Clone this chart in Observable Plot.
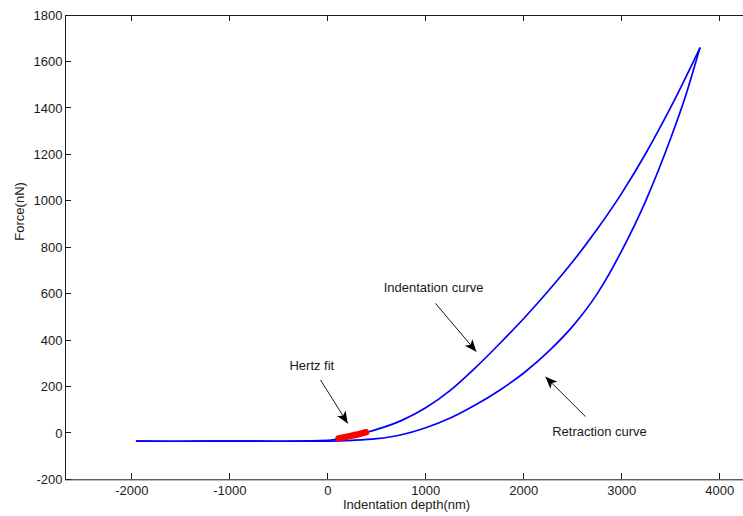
<!DOCTYPE html>
<html>
<head>
<meta charset="utf-8">
<script src="https://cdn.jsdelivr.net/npm/d3@7"></script>
<script src="https://cdn.jsdelivr.net/npm/@observablehq/plot@0.6"></script>
<style>
  html, body { margin: 0; padding: 0; background: #fff; }
  #chart svg { display: block; }
</style>
</head>
<body>
<div id="chart"></div>
<script>
// Indentation (approach) curve
const indentDepth = [-1950, -1500, -1000, -500, 0, 100, 250, 400, 500, 750, 1000, 1250, 1500, 1750, 2000, 2250, 2500, 2750, 3000, 3250, 3500, 3796];
const indentForce = [-33, -34, -33, -34, -30, -24, -10, 5, 17, 55, 110, 185, 280, 385, 495, 613, 740, 880, 1035, 1210, 1405, 1659];
// Retraction curve
const retractDepth = [-1950, -1500, -1000, -500, 0, 250, 500, 742, 1000, 1250, 1500, 1750, 2000, 2250, 2500, 2750, 3000, 3250, 3500, 3650, 3796];
const retractForce = [-33, -34, -33, -34, -33, -30, -23, -7, 24, 66, 121, 185, 260, 352, 462, 602, 787, 1007, 1272, 1452, 1659];
// Hertz fit segment
const hertzDepth = [110, 200, 300, 390];
const hertzForce = [-22, -14, -5, 5];
// Ticks
const xTicks = [-2000, -1000, 0, 1000, 2000, 3000, 4000];
const yTicks = [-200, 0, 200, 400, 600, 800, 1000, 1200, 1400, 1600, 1800];
// Annotations
const noteLabels = ["Hertz fit", "Indentation curve", "Retraction curve"];
const noteX = [-391, 571, 2290];
const noteY = [290, 625, 7];
const arrowX1 = [-74, 1099, 2630];
const arrowY1 = [230, 560, 72];
const arrowX2 = [204, 1516, 2221];
const arrowY2 = [43, 352, 244];

const xDomain = [-2676, 4242];
const yDomain = [-200, 1800];

const indent = indentDepth.map((d, i) => ({x: d, y: indentForce[i]}));
const retract = retractDepth.map((d, i) => ({x: d, y: retractForce[i]}));
const hertz = hertzDepth.map((d, i) => ({x: d, y: hertzForce[i]}));
const notes = noteLabels.map((t, i) => ({t, x: noteX[i], y: noteY[i]}));
const arrows = arrowX1.map((d, i) => ({x1: d, y1: arrowY1[i], x2: arrowX2[i], y2: arrowY2[i]}));

const font = "'Liberation Sans', Arial, sans-serif";
const ink = "#1a1a1a";

const plot = Plot.plot({
  width: 743,
  height: 516,
  marginLeft: 65,
  marginRight: 0,
  marginTop: 15,
  marginBottom: 36.7,
  x: {domain: xDomain, axis: null},
  y: {domain: yDomain, axis: null},
  style: {fontFamily: font, fontSize: "13px", background: "#fff", color: ink, overflow: "visible"},
  marks: [
    Plot.ruleY([yDomain[0]], {stroke: ink, strokeWidth: 1}),
    Plot.ruleY([yDomain[1]], {stroke: ink, strokeWidth: 1}),
    Plot.ruleX([xDomain[0]], {stroke: ink, strokeWidth: 1}),
    Plot.line(indent, {x: "x", y: "y", stroke: "#0000ff", strokeWidth: 1.7, curve: "monotone-x"}),
    Plot.line(retract, {x: "x", y: "y", stroke: "#0000ff", strokeWidth: 1.7, curve: "monotone-x"}),
    Plot.line(hertz, {x: "x", y: "y", stroke: "#ff0000", strokeWidth: 6.5, strokeLinecap: "round"}),
    Plot.text(xTicks, {x: d => d, y: yDomain[0], dy: 11, text: d => String(d), fill: ink, fontSize: 13}),
    Plot.text(yTicks, {x: xDomain[0], y: d => d, dx: -3, textAnchor: "end", text: d => String(d), fill: ink, fontSize: 13}),
    Plot.text(notes, {x: "x", y: "y", text: "t", textAnchor: "start", fill: ink, fontSize: 13}),
    Plot.link(arrows, {x1: "x1", y1: "y1", x2: "x2", y2: "y2", stroke: "#000", strokeWidth: 0.9}),
    Plot.text(["Indentation depth(nm)"], {frameAnchor: "bottom", dx: 2, dy: 29, text: d => d, fill: ink, fontSize: 13}),
    Plot.text(["Force(nN)"], {frameAnchor: "left", dx: -46, dy: -7, rotate: -90, text: d => d, fill: ink, fontSize: 13})
  ]
});

// Inward MATLAB-style ticks, drawn with the plot's own scales
const sx = plot.scale("x"), sy = plot.scale("y");
const fx = d3.scaleLinear(sx.domain, sx.range);
const fy = d3.scaleLinear(sy.domain, sy.range);
const svg = d3.select(plot);
const tg = svg.append("g").attr("stroke", ink).attr("stroke-width", 1).attr("shape-rendering", "crispEdges");
const yb = fy(yDomain[0]), yt = fy(yDomain[1]), xl = fx(xDomain[0]);
xTicks.forEach(v => {
  const px = fx(v);
  tg.append("line").attr("x1", px).attr("x2", px).attr("y1", yb).attr("y2", yb - 6);
  tg.append("line").attr("x1", px).attr("x2", px).attr("y1", yt).attr("y2", yt + 6);
});
yTicks.forEach(v => {
  const py = fy(v);
  tg.append("line").attr("x1", xl).attr("x2", xl + 6).attr("y1", py).attr("y2", py);
});

// Filled arrowheads on annotation links
const defs = svg.insert("defs", ":first-child");
defs.append("marker")
  .attr("id", "ahead")
  .attr("markerUnits", "userSpaceOnUse")
  .attr("markerWidth", 14).attr("markerHeight", 12)
  .attr("refX", 12).attr("refY", 5)
  .attr("orient", "auto")
  .append("path")
  .attr("d", "M0,0 L12,5 L0,10 L3,5 Z")
  .attr("fill", "#000");
svg.selectAll("g[aria-label='link'] path").attr("marker-end", "url(#ahead)");

document.getElementById("chart").appendChild(plot);
</script>
</body>
</html>
